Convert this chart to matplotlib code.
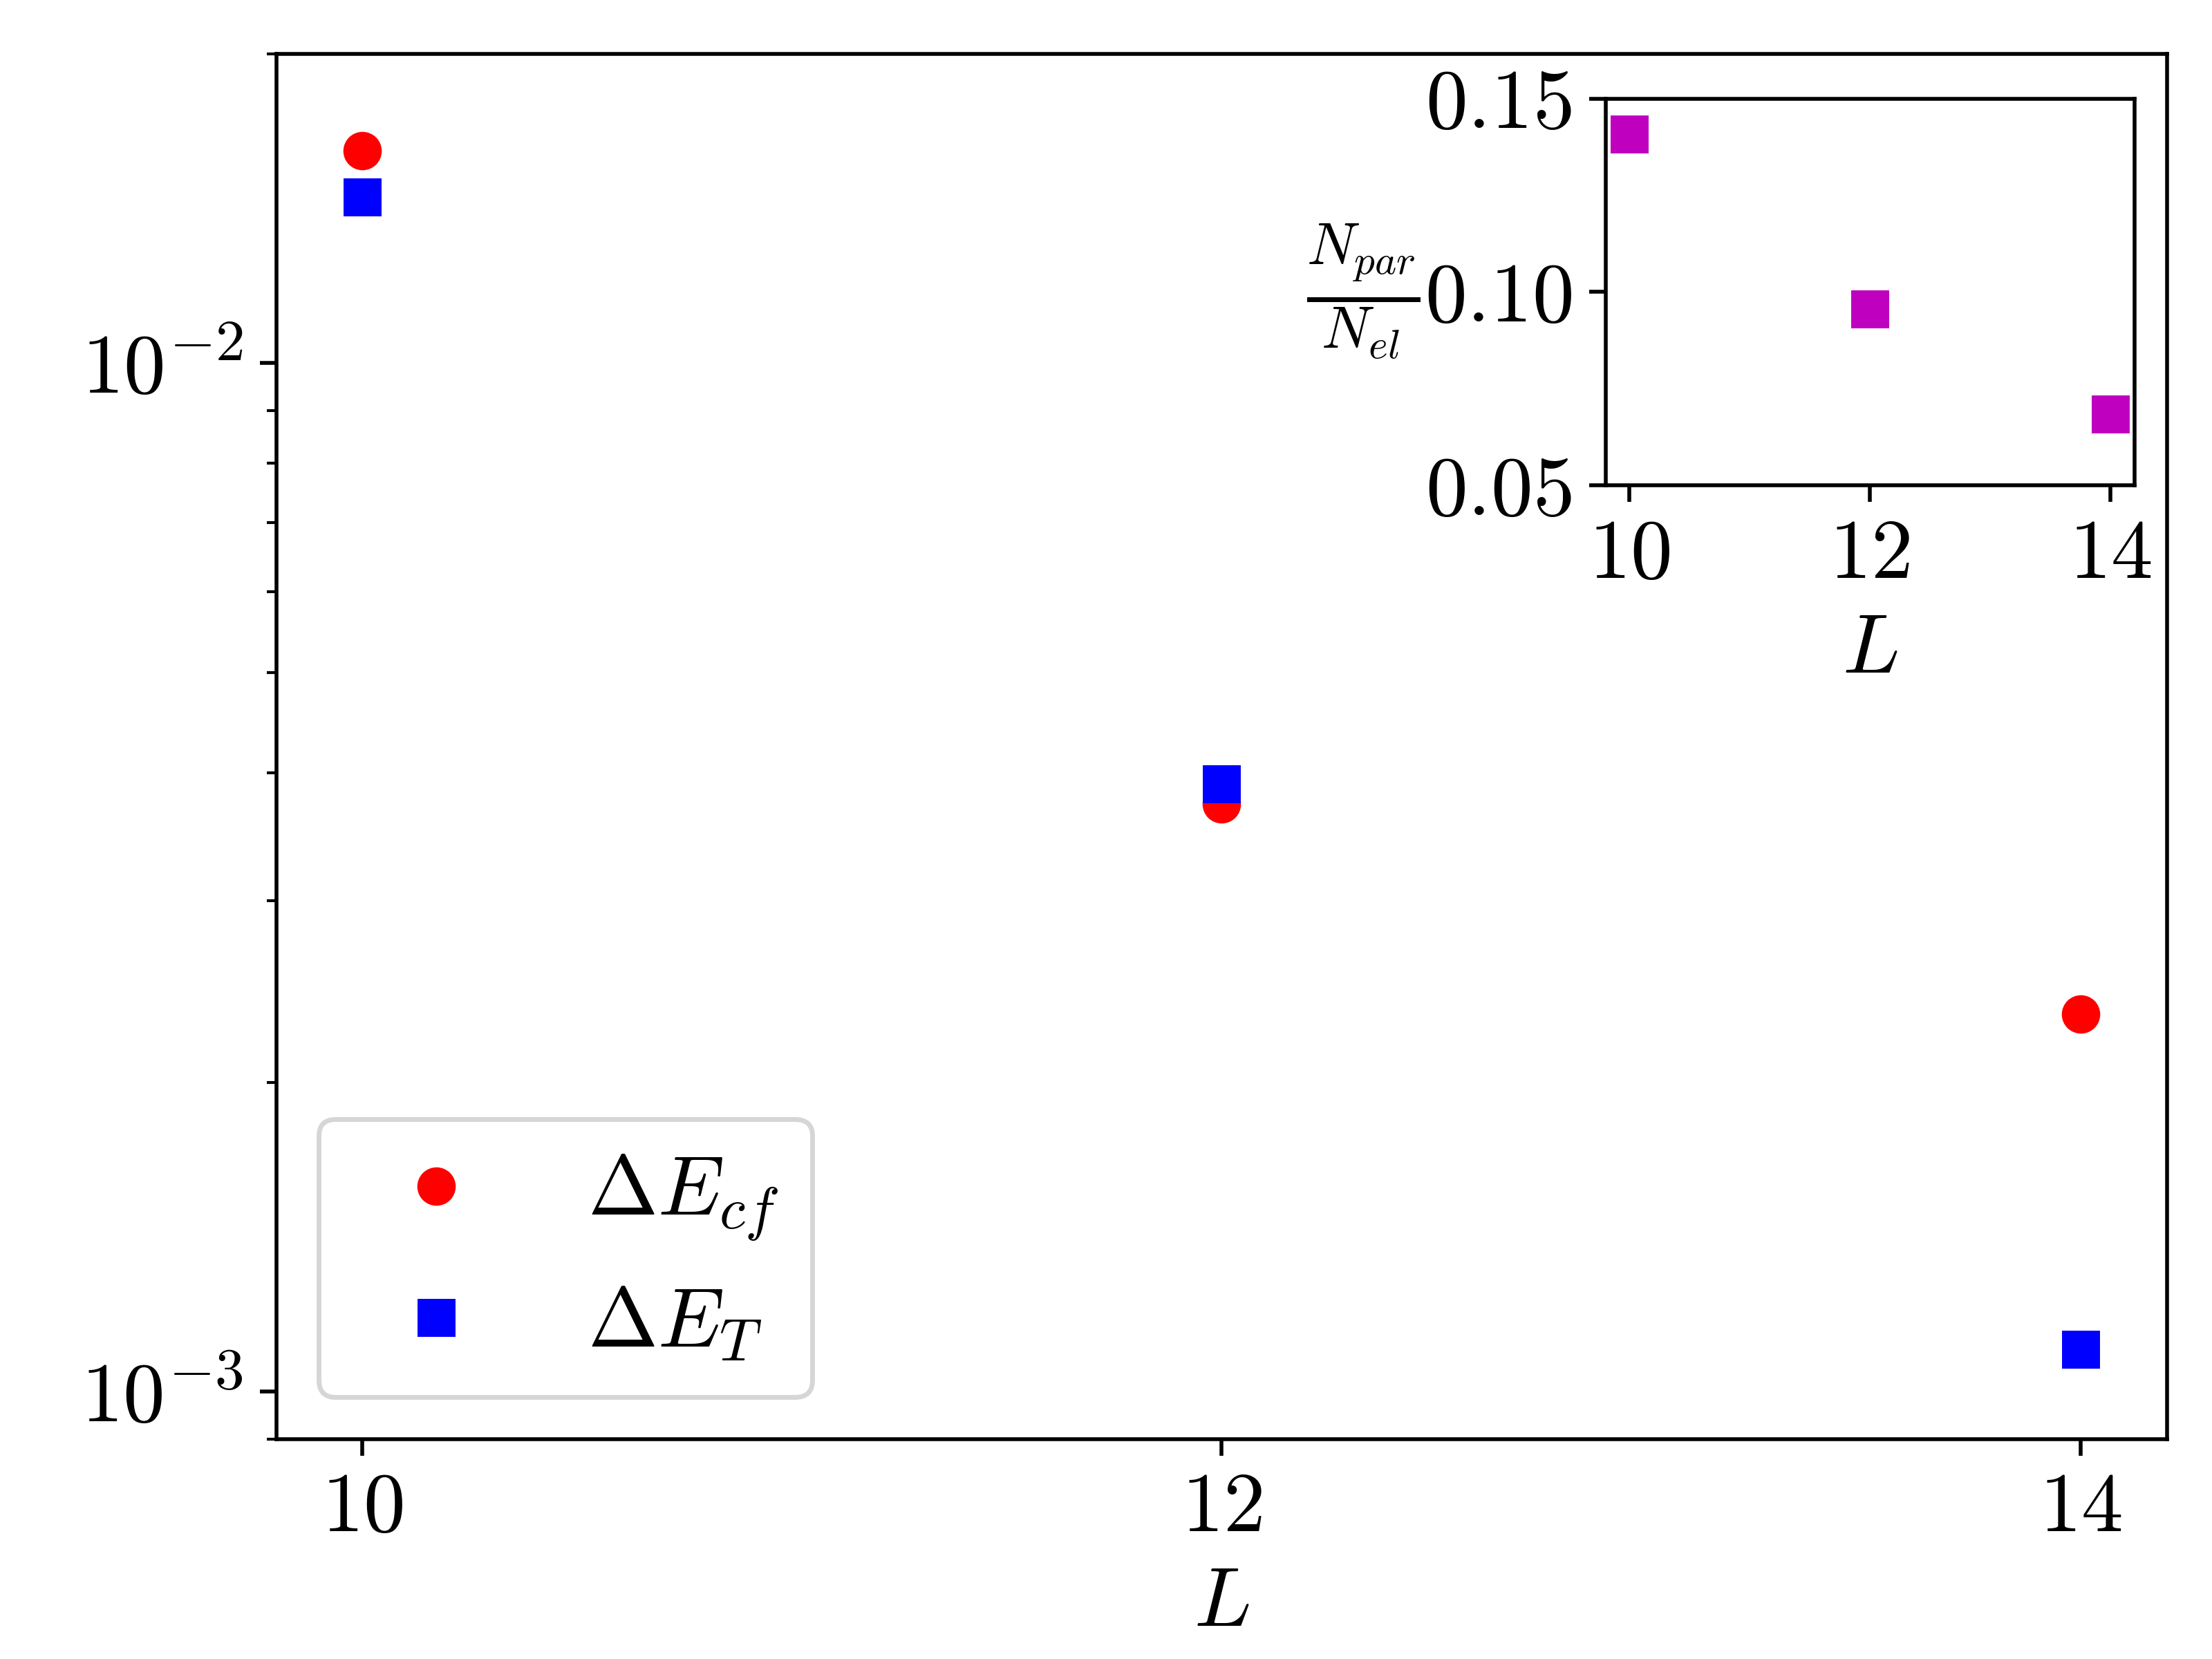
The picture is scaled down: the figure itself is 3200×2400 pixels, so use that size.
import matplotlib
matplotlib.use('Agg')
from matplotlib import pyplot as plt

plt.rcParams['font.family'] = 'serif'
plt.rcParams['font.serif'] = ['cmr10']
plt.rcParams['mathtext.fontset'] = 'cm'
plt.rcParams['axes.formatter.use_mathtext'] = True
plt.rcParams['axes.unicode_minus'] = False
plt.rcParams['font.size'] = 17.5

L = [10, 12, 14]
dE_cf = [0.0161, 0.00373, 0.00233]
dE_T = [0.0145, 0.0039, 0.00110]
npar_nel = [0.1408, 0.0956, 0.0684]

fig = plt.figure(figsize=(6.4, 4.8), dpi=500)
ax = fig.add_axes([0.125, 0.1327, 0.8546, 0.835])
ax.plot(L, dE_cf, 'ro', markersize=7, label=r'$\Delta E_{cf}$')
ax.plot(L, dE_T, 'bs', markersize=7, label=r'$\Delta E_{T}$')
ax.set_yscale('log')
ax.set_ylim(9e-4, 2e-2)
ax.set_xticks(L)
ax.set_xlabel(r'$L$')
ax.legend(loc='lower left')

axin = fig.add_axes([0.7258, 0.7075, 0.2391, 0.233])
axin.plot(L, npar_nel, 'ms', markersize=7)
axin.set_ylim(0.05, 0.15)
axin.set_yticks([0.05, 0.10, 0.15])
axin.set_xticks(L)
axin.set_xlabel(r'$L$')
axin.set_ylabel(r'$\frac{N_{par}}{N_{el}}$', rotation=0, ha='right', va='center', labelpad=1)

fig.savefig('out.png', dpi=500)
